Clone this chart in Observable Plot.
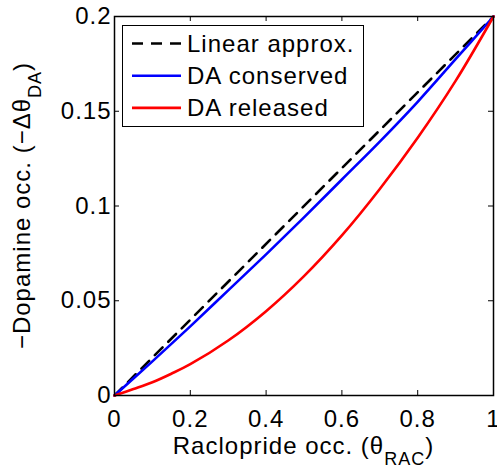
<!DOCTYPE html>
<html><head><meta charset="utf-8">
<script src="https://cdn.jsdelivr.net/npm/d3@7"></script>
<script src="https://cdn.jsdelivr.net/npm/@observablehq/plot@0.6"></script>
<style>
body{margin:0;background:#fff;}
#chart{position:relative;width:497px;height:473px;}
</style></head><body><div id="chart"></div>
<script>
// ---- data ----
const linearX = [0, 1];
const linearY = [0, 0.2];
const conservedX = [0, 0.1, 0.2, 0.3, 0.4, 0.5, 0.6, 0.7, 0.8, 0.9, 1];
const conservedY = [0, 0.018, 0.0365, 0.0555, 0.0745, 0.094, 0.114, 0.134, 0.155, 0.1775, 0.2];
const releasedX = [0, 0.05, 0.1, 0.15, 0.2, 0.3, 0.4, 0.5, 0.6, 0.7, 0.8, 0.9, 1];
const releasedY = [0, 0.0034, 0.007, 0.0115, 0.0165, 0.029, 0.0445, 0.063, 0.0845, 0.109, 0.136, 0.166, 0.2];
const xTicks = [0, 0.2, 0.4, 0.6, 0.8, 1];
const xTickLabels = ["0", "0.2", "0.4", "0.6", "0.8", "1"];
const yTicks = [0, 0.05, 0.1, 0.15, 0.2];
const yTickLabels = ["0", "0.05", "0.1", "0.15", "0.2"];
const seriesNames = ["Linear approx.", "DA conserved", "DA released"];
const seriesColors = ["#000000", "#0000ff", "#ff0000"];
const seriesDash = ["11,8", null, null];

// ---- layout ----
const font = '"Liberation Sans", Arial, Helvetica, sans-serif';
const W = 497, H = 473, mL = 114, mR = 4, mT = 16, mB = 78;
const innerW = W - mL - mR, innerH = H - mT - mB;
const tickLen = 5;

const toRows = (xs, ys) => xs.map((x, i) => ({x, y: ys[i]}));
const series = [toRows(linearX, linearY), toRows(conservedX, conservedY), toRows(releasedX, releasedY)];

const tickStyle = {stroke: "black", strokeOpacity: 1, strokeWidth: 1};
const plot = Plot.plot({
  width: W, height: H,
  marginLeft: mL, marginRight: mR, marginTop: mT, marginBottom: mB,
  style: {fontSize: "24px", fontFamily: font, background: "white", color: "black", letterSpacing: "1px"},
  x: {domain: [0, 1]},
  y: {domain: [0, 0.2]},
  marks: [
    Plot.gridX(xTicks, {...tickStyle, insetTop: innerH - tickLen}),
    Plot.gridX(xTicks, {...tickStyle, insetBottom: innerH - tickLen}),
    Plot.gridY(yTicks, {...tickStyle, insetRight: innerW - tickLen}),
    Plot.gridY(yTicks, {...tickStyle, insetLeft: innerW - tickLen}),
    Plot.axisX(xTicks, {tickSize: 0, tickPadding: 14, label: null,
      tickFormat: d => xTickLabels[xTicks.indexOf(d)]}),
    Plot.axisY(yTicks, {tickSize: 0, tickPadding: 3, label: null,
      tickFormat: d => yTickLabels[yTicks.indexOf(d)]}),
    ...series.map((rows, i) => Plot.line(rows, {
      x: "x", y: "y", stroke: seriesColors[i], strokeWidth: 2.6,
      strokeDasharray: seriesDash[i], curve: "catmull-rom"
    })),
    Plot.frame({stroke: "black", strokeWidth: 1.5})
  ]
});

const svg = d3.select(plot);
// axis labels with subscripts
const xl = svg.append("text")
  .attr("x", mL + innerW / 2).attr("y", 454)
  .attr("text-anchor", "middle").attr("fill", "black")
  .style("font-size", "24px");
xl.append("tspan").text("Raclopride occ. (\u03B8");
xl.append("tspan").attr("dy", 11).style("font-size", "18px").text("RAC");
xl.append("tspan").attr("dy", -11).text(")");

const yl = svg.append("text")
  .attr("transform", `translate(30,${mT + innerH / 2}) rotate(-90)`)
  .attr("text-anchor", "middle").attr("fill", "black")
  .style("font-size", "24px");
yl.append("tspan").text("\u2212Dopamine occ. (\u2212\u0394\u03B8");
yl.append("tspan").attr("dy", 11).style("font-size", "18px").text("DA");
yl.append("tspan").attr("dy", -11).text(")");

// legend inside the axes
const lg = svg.append("g");
lg.append("rect").attr("x", 122.5).attr("y", 25.5).attr("width", 241).attr("height", 101)
  .attr("fill", "white").attr("stroke", "black").attr("stroke-width", 1);
seriesNames.forEach((name, i) => {
  const cy = 43.5 + 32.2 * i;
  lg.append("line").attr("x1", 132).attr("x2", 181).attr("y1", cy).attr("y2", cy)
    .attr("stroke", seriesColors[i]).attr("stroke-width", 2.6)
    .attr("stroke-dasharray", seriesDash[i]);
  lg.append("text").attr("x", 187).attr("y", cy + 8.5).attr("fill", "black")
    .attr("text-anchor", "start")
    .style("font-size", "24px").text(name);
});

document.getElementById("chart").appendChild(plot);
</script></body></html>
